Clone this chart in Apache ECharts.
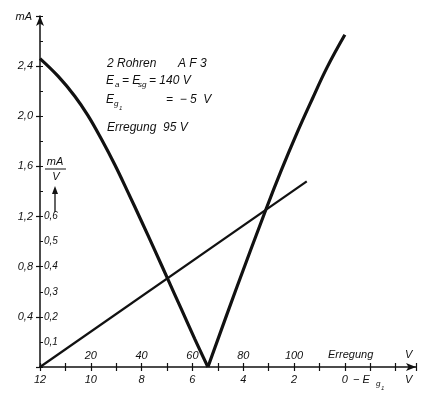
<!DOCTYPE html>
<html><head><meta charset="utf-8">
<script src="https://cdn.jsdelivr.net/npm/echarts@6/dist/echarts.min.js"></script>
<style>html,body{margin:0;padding:0;background:#fff}#c{width:422px;height:393px}</style>
</head><body><div id="c"></div>
<script>
// Erregung (V) vs anode current (mA) — two branches of the V curve
const leftBranch = [[0,2.46],[7.1,2.32],[13.7,2.16],[18.9,2.005],[24.1,1.82],[29.4,1.615],[34.6,1.395],[39.9,1.165],[45.2,0.93],[50.4,0.697],[55.6,0.463],[60.9,0.225],[66.1,0]];
const rightBranch = [[66.1,0],[77,0.61],[89,1.26],[95,1.57],[101,1.86],[107,2.13],[113,2.39],[120,2.65]];
// slope line in mA/V
const slopeLine = [[0,0],[105,0.74]];
// tick labels
const erregungTicks = [20,40,60,80,100];
const egTicks = [12,10,8,6,4,2,0];
const mATicks = [0.4,0.8,1.2,1.6,2.0,2.4];
const slopeTicks = [0.1,0.2,0.3,0.4,0.5,0.6];

const F = 'Liberation Sans';
const font = (s) => 'italic ' + s + 'px "' + F + '"';
const comma = (v) => v.toFixed(1).replace('.', ',');
const has = (arr, v) => arr.some(t => Math.abs(t - v) < 1e-6);

const chart = echarts.init(document.getElementById('c'));
const T = (text, x, y, size, align) => ({type:'text', x, y, style:{text, font: font(size||11), fill:'#111', align: align||'left', verticalAlign:'middle'}});

chart.setOption({
  animation: false,
  backgroundColor: '#fff',
  grid: {left: 40, right: 6, top: 16, bottom: 26},
  xAxis: [{
    type:'value', min:0, max:148, interval:10, position:'bottom',
    axisLine:{show:true, lineStyle:{color:'#111', width:1.5}, symbol:['none','arrow'], symbolSize:[6,10]},
    axisTick:{show:true, length:4, lineStyle:{color:'#111', width:1.2}},
    splitLine:{show:false},
    axisLabel:{margin:7, fontStyle:'italic', fontFamily:F, fontSize:11, color:'#111',
      formatter: v => { if (v % 20 !== 0) return ''; const i = v/20; return i < egTicks.length ? String(egTicks[i]) : ''; }}
  },{
    type:'value', min:0, max:148, interval:10, position:'bottom',
    axisLine:{show:false},
    axisTick:{show:true, inside:true, length:4, lineStyle:{color:'#111', width:1.2}},
    splitLine:{show:false},
    axisLabel:{inside:true, margin:6, fontStyle:'italic', fontFamily:F, fontSize:11, color:'#111',
      formatter: v => has(erregungTicks, v) ? String(v) : ''}
  }],
  yAxis: [{
    type:'value', min:0, max:2.8, interval:0.4, position:'left',
    axisLine:{show:true, lineStyle:{color:'#111', width:1.5}, symbol:['none','arrow'], symbolSize:[6,10]},
    axisTick:{show:true, length:4, lineStyle:{color:'#111', width:1.2}},
    splitLine:{show:false},
    axisLabel:{margin:7, fontStyle:'italic', fontFamily:F, fontSize:11, color:'#111',
      formatter: v => has(mATicks, v) ? comma(v) : ''}
  },{
    type:'value', min:0, max:1.4, interval:0.1, position:'left',
    axisLine:{show:false},
    axisTick:{show:true, inside:true, length:3, lineStyle:{color:'#111', width:1}},
    splitLine:{show:false},
    axisLabel:{inside:true, margin:4, fontStyle:'italic', fontFamily:F, fontSize:10, color:'#111',
      formatter: v => has(slopeTicks, v) ? comma(v) : ''}
  }],
  series: [
    {type:'line', data:leftBranch, smooth:0.4, showSymbol:false, xAxisIndex:0, yAxisIndex:0,
     lineStyle:{color:'#111', width:3.2}},
    {type:'line', data:rightBranch, smooth:0.4, showSymbol:false, xAxisIndex:0, yAxisIndex:0,
     lineStyle:{color:'#111', width:3.2}},
    {type:'line', data:slopeLine, showSymbol:false, xAxisIndex:0, yAxisIndex:1,
     lineStyle:{color:'#111', width:2.2}}
  ],
  graphic: [
    T('mA', 32, 17, 11, 'right'),
    T('2 Rohren', 107, 64, 12),
    T('A F 3', 178, 64, 12),
    T('E', 106, 81, 12),
    T('a', 115, 85, 8),
    T('= E', 122, 81, 12),
    T('sg', 138, 85, 8),
    T('= 140 V', 149, 81, 12),
    T('E', 106, 100, 12),
    T('g', 114, 104, 8),
    T('1', 119, 108, 6),
    T('=  − 5  V', 166, 100, 12),
    T('Erregung  95 V', 107, 128, 12),
    T('mA', 55, 162, 11, 'center'),
    {type:'line', shape:{x1:45, y1:169, x2:66, y2:169}, style:{stroke:'#111', lineWidth:1}},
    T('V', 56, 177, 11, 'center'),
    {type:'line', shape:{x1:55, y1:212, x2:55, y2:193}, style:{stroke:'#111', lineWidth:1.3}},
    {type:'polygon', shape:{points:[[52,194],[58,194],[55,186]]}, style:{fill:'#111'}},
    T('Erregung', 328, 355, 11),
    T('V', 405, 355, 11),
    T('− E', 353, 380, 11),
    T('g', 376, 384, 8),
    T('1', 381, 388, 6),
    T('V', 405, 380, 11)
  ]
});
</script></body></html>
